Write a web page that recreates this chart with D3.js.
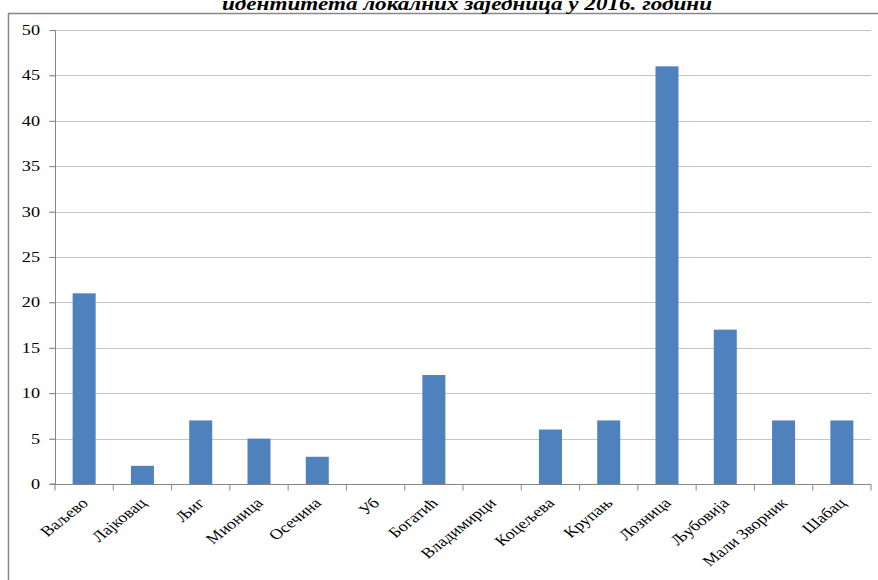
<!DOCTYPE html>
<html><head><meta charset="utf-8">
<script src="https://cdn.jsdelivr.net/npm/d3@7"></script>
<style>body{margin:0;background:#fff}svg{display:block}</style>
</head><body>
<svg id="c" width="878" height="580"></svg>
<script>
const categories = ["Ваљево","Лајковац","Љиг","Мионица","Осечина","Уб","Богатић","Владимирци","Коцељева","Крупањ","Лозница","Љубовија","Мали Зворник","Шабац"];
const values = [21,2,7,5,3,0,12,0,6,7,46,17,7,7];
const yTicks = [0,5,10,15,20,25,30,35,40,45,50];
const title = "идентитета локалних заједница у 2016. години";

const svg = d3.select("#c");
const m = {l:55, r:871, t:30, b:484};
const xb = d3.scaleBand().domain(categories).range([m.l, m.r]);
const y = d3.scaleLinear().domain([0,50]).range([m.b, m.t]);
const serif = "Liberation Serif, Times New Roman, serif";
const sx = 1.25; // horizontal stretch of the original picture

// frame
svg.append("line").attr("x1",8).attr("x2",878).attr("y1",13.5).attr("y2",13.5).attr("stroke","#888").attr("stroke-width",1.5);
svg.append("line").attr("x1",8.5).attr("x2",8.5).attr("y1",13).attr("y2",580).attr("stroke","#888").attr("stroke-width",1.5);

// title
svg.append("text").attr("transform",`translate(467,9.5) scale(${sx},1)`).attr("text-anchor","middle")
  .style("font-family",serif).attr("font-weight","bold").attr("font-style","italic").attr("font-size",18.5)
  .text(title);

// grid
svg.append("g").selectAll("line").data(yTicks.filter(d=>d>0)).join("line")
  .attr("x1",m.l-6).attr("x2",m.r).attr("y1",d=>Math.round(y(d))+0.5).attr("y2",d=>Math.round(y(d))+0.5)
  .attr("stroke","#c4c4c4").attr("stroke-width",1.2);

// bars
svg.append("g").selectAll("rect").data(values).join("rect")
  .attr("x",(d,i)=>xb(categories[i])+xb.bandwidth()/2-11.5)
  .attr("width",23)
  .attr("y",d=>y(d)).attr("height",d=>y(0)-y(d))
  .attr("fill","#4f81bd");

// y axis
const ya = svg.append("g").attr("transform",`translate(${m.l+0.5},0)`)
  .call(d3.axisLeft(y).tickValues(yTicks).tickSize(6).tickPadding(0).tickFormat(""));
ya.select(".domain").attr("stroke","#868686").attr("d",`M-6,${m.b}H0V${m.t}`);
ya.selectAll(".tick line").attr("stroke","#868686");
svg.append("g").selectAll("text").data(yTicks).join("text")
  .attr("transform",d=>`translate(40,${y(d)+5}) scale(1.3,1)`)
  .attr("text-anchor","end").style("font-family",serif).attr("font-size",14).attr("fill","#000")
  .text(d=>d);

// x axis
const xa = svg.append("g").attr("transform",`translate(0,${m.b+0.5})`)
  .call(d3.axisBottom(xb).tickSize(6).tickSizeOuter(0).tickFormat(""));
xa.selectAll(".tick line").attr("transform",`translate(${-xb.bandwidth()/2},0)`).attr("stroke","#868686");
xa.select(".domain").attr("stroke","#868686").attr("d",`M${m.l},0H${m.r}`);
xa.append("line").attr("x1",m.r).attr("x2",m.r).attr("y1",0).attr("y2",6).attr("stroke","#868686");

// x labels
svg.append("g").selectAll("text").data(categories).join("text")
  .attr("transform",d=>`translate(${xb(d)+xb.bandwidth()/2+5},${m.b+20}) scale(${sx},1) rotate(-45)`)
  .attr("text-anchor","end").style("font-family",serif).attr("font-size",14.5).attr("fill","#000")
  .text(d=>d);
</script>
</body></html>
